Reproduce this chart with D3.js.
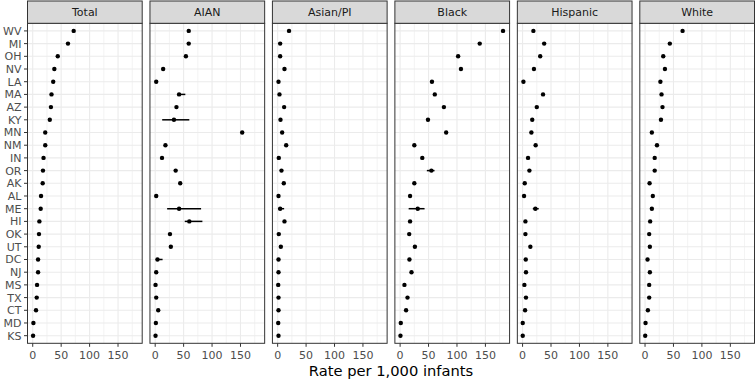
<!DOCTYPE html>
<html>
<head>
<meta charset="utf-8">
<script src="https://cdn.jsdelivr.net/npm/d3@7"></script>
<style>
  body { margin: 0; background: #fff; }
  text { font-family: "DejaVu Sans", sans-serif; }
</style>
</head>
<body>
<svg id="chart" width="756" height="380"></svg>
<script>
// states, top to bottom
const states = ["WV","MI","OH","NV","LA","MA","AZ","KY","MN","NM","IN","OR","AK",
                "AL","ME","HI","OK","UT","DC","NJ","MS","TX","CT","MD","KS"];
const groups = ["Total","AIAN","Asian/PI","Black","Hispanic","White"];

// rate per 1,000 infants, same order as states
const totalRate    = [72,62,44,38,36,33,32,30,22,22,19,18,17.5,14.6,14,11.7,11,10.5,9.4,9.4,7.6,7,5.8,1.2,0.6];
const aianRate     = [59,59,54,14,1.8,42,37.4,33,153,18,12,36,44,1.8,42,60,26,27.5,4,1.8,0.6,1.8,5.3,1.2,0.6];
const asianPiRate  = [20,4.4,4.4,12,1.5,3.2,11.4,5,7.9,15,2,6.7,10.8,1.5,4.4,12,2,5.6,1.5,1.5,1,1.5,1.5,1,1.5];
const blackRate    = [181,140,102,107,56,61,77,49,81,25,39,55,25,17.5,31,17.5,16,26,16.4,20,7.6,13,10.5,1.2,0.6];
const hispanicRate = [19,38,31,20,1.5,36,25,17,15.5,23,9.6,12,3.8,2.6,22.5,5,5,13.7,5.6,6,3.2,6,4.4,0.3,0.3];
const whiteRate    = [66,43.6,32,35,27,29,30.7,28,12,21,17,17,8,13.7,12,9,7.3,8.5,4.4,8.5,7.3,7.3,5,0.9,0.3];

// visible confidence intervals: group, state, lower, upper
const ciRows = [
  ["AIAN","MA",39,53],
  ["AIAN","KY",12.3,60],
  ["AIAN","ME",21,80.7],
  ["AIAN","HI",52,83],
  ["AIAN","DC",1,13],
  ["Asian/PI","ME",0.5,11.4],
  ["Black","OR",47,60.5],
  ["Black","ME",15,43],
  ["Hispanic","ME",18,28.4]
];

const xTicks = [0,50,100,150];
const xMinor = [25,75,125,175];

const rates = {
  "Total": totalRate, "AIAN": aianRate, "Asian/PI": asianPiRate,
  "Black": blackRate, "Hispanic": hispanicRate, "White": whiteRate
};

const svg = d3.select("#chart");
const panelTop = 23.3, panelBottom = 343.3, stripTop = 1;

const fx = d3.scaleBand()
    .domain(groups)
    .range([27.5, 754.5])
    .paddingInner(0.0634);

const x = d3.scaleLinear()
    .domain([-9.2, 192.5])
    .range([0, fx.bandwidth()]);

const y = d3.scalePoint()
    .domain(states)
    .range([panelTop, panelBottom])
    .padding(0.6);

const pw = fx.bandwidth(), ph = panelBottom - panelTop;

groups.forEach(function(grp, gi) {
  const g = svg.append("g").attr("transform", "translate(" + fx(grp) + ",0)");

  g.append("rect")
    .attr("x", 0).attr("y", panelTop).attr("width", pw).attr("height", ph)
    .attr("fill", "#fff");

  // minor grid
  g.selectAll(".minor").data(xMinor).enter().append("line")
    .attr("x1", d => x(d)).attr("x2", d => x(d))
    .attr("y1", panelTop).attr("y2", panelBottom)
    .attr("stroke", "#ebebeb").attr("stroke-width", 0.6);

  // major grid
  g.selectAll(".major").data(xTicks).enter().append("line")
    .attr("x1", d => x(d)).attr("x2", d => x(d))
    .attr("y1", panelTop).attr("y2", panelBottom)
    .attr("stroke", "#ebebeb").attr("stroke-width", 1.1);

  g.selectAll(".hgrid").data(states).enter().append("line")
    .attr("x1", 0).attr("x2", pw)
    .attr("y1", d => y(d)).attr("y2", d => y(d))
    .attr("stroke", "#ebebeb").attr("stroke-width", 1.1);

  // error bars
  g.selectAll(".ci").data(ciRows.filter(r => r[0] === grp)).enter().append("line")
    .attr("x1", d => x(d[2])).attr("x2", d => x(d[3]))
    .attr("y1", d => y(d[1])).attr("y2", d => y(d[1]))
    .attr("stroke", "#000").attr("stroke-width", 1.5);

  // points
  g.selectAll(".pt").data(rates[grp]).enter().append("circle")
    .attr("cx", d => x(d))
    .attr("cy", (d, i) => y(states[i]))
    .attr("r", 2.2)
    .attr("fill", "#000");

  // panel border
  g.append("rect")
    .attr("x", 0).attr("y", panelTop).attr("width", pw).attr("height", ph)
    .attr("fill", "none").attr("stroke", "#333").attr("stroke-width", 1);

  // strip
  g.append("rect")
    .attr("x", 0).attr("y", stripTop).attr("width", pw).attr("height", panelTop - stripTop)
    .attr("fill", "#d9d9d9").attr("stroke", "#333").attr("stroke-width", 1);
  g.append("text")
    .attr("x", pw / 2).attr("y", (stripTop + panelTop) / 2)
    .attr("dy", "0.36em")
    .attr("text-anchor", "middle")
    .attr("font-size", 11)
    .attr("fill", "#1a1a1a")
    .text(grp);

  // x axis
  const ax = g.append("g").attr("transform", "translate(0," + panelBottom + ")");
  ax.selectAll("line").data(xTicks).enter().append("line")
    .attr("x1", d => x(d)).attr("x2", d => x(d))
    .attr("y1", 0).attr("y2", 3.5)
    .attr("stroke", "#333").attr("stroke-width", 1);
  ax.selectAll("text").data(xTicks).enter().append("text")
    .attr("x", d => x(d)).attr("y", 15.7)
    .attr("text-anchor", "middle")
    .attr("font-size", 11)
    .attr("fill", "#4d4d4d")
    .text(d => d);

  // y axis on first panel only
  if (gi === 0) {
    const ay = g.append("g");
    ay.selectAll("line").data(states).enter().append("line")
      .attr("x1", -3.5).attr("x2", 0)
      .attr("y1", d => y(d)).attr("y2", d => y(d))
      .attr("stroke", "#333").attr("stroke-width", 1);
    ay.selectAll("text").data(states).enter().append("text")
      .attr("x", -6).attr("y", d => y(d))
      .attr("dy", "0.36em")
      .attr("text-anchor", "end")
      .attr("font-size", 11)
      .attr("fill", "#4d4d4d")
      .text(d => d);
  }
});

svg.append("text")
  .attr("x", (27.5 + 754.5) / 2).attr("y", 376)
  .attr("text-anchor", "middle")
  .attr("font-size", 14.7)
  .attr("fill", "#000")
  .text("Rate per 1,000 infants");
</script>
</body>
</html>
